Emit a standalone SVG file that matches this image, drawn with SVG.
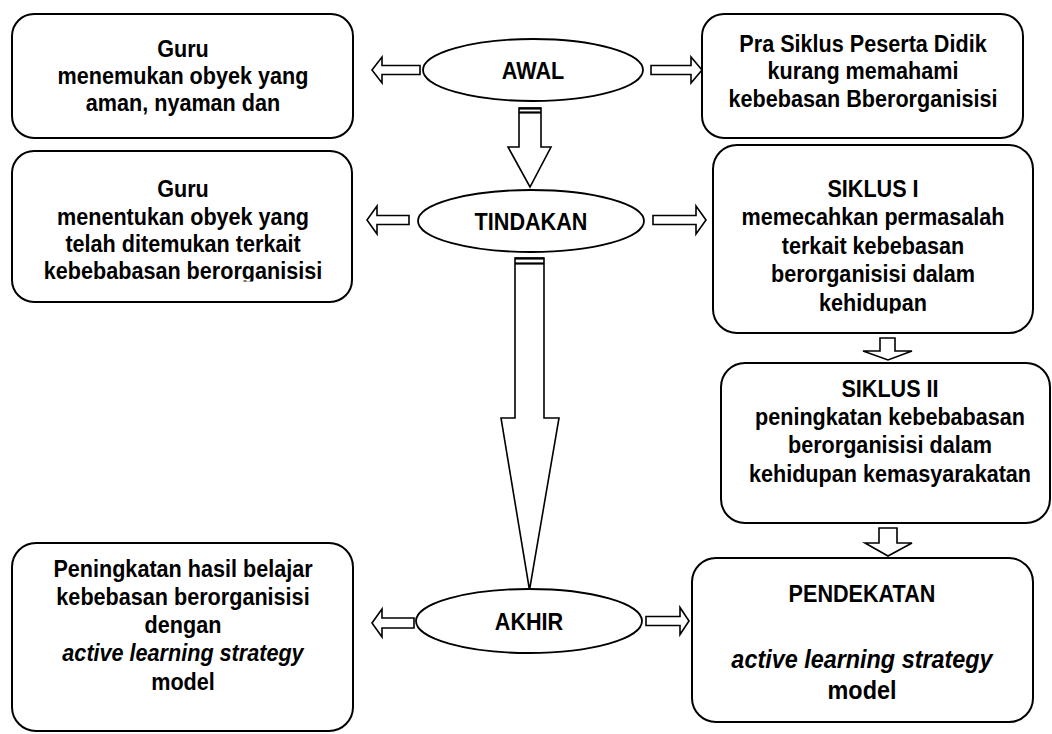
<svg xmlns="http://www.w3.org/2000/svg" width="1052" height="734" viewBox="0 0 1052 734">
<style>
.box{fill:#fff;stroke:#000;stroke-width:2}
.ell{fill:#fff;stroke:#000;stroke-width:1.8}
.arr{fill:#fff;stroke:#000;stroke-width:1.6;stroke-linejoin:miter}
.bar{stroke:#000;stroke-width:2.2}
text{font-family:"Liberation Sans",Arial,sans-serif;font-weight:bold;font-size:24px;text-anchor:middle;fill:#000}
.it{font-style:italic}
.big{font-size:26px}
</style>
<defs>
<clipPath id="c3"><rect x="12" y="151" width="340" height="130.5"/></clipPath>
<clipPath id="c4"><rect x="713" y="145" width="320" height="168.5"/></clipPath>
</defs>
<rect width="1052" height="734" fill="#fff"/>
<g id="connectors">
<polygon class="arr" points="372,70 382,57 382,65.5 420,65.5 420,74.5 382,74.5 382,83"/>
<polygon class="arr" points="702,70 691,57 691,65.5 651,65.5 651,74.5 691,74.5 691,83"/>
<polygon class="arr" points="367,220 377,206 377,215.5 409,215.5 409,224.5 377,224.5 377,234"/>
<polygon class="arr" points="706,220 696,206 696,215.5 653,215.5 653,224.5 696,224.5 696,234"/>
<polygon class="arr" points="372,623 382,609 382,618 414,618 414,628 382,628 382,637"/>
<polygon class="arr" points="689,621 680,607.5 680,616.5 646,616.5 646,625.5 680,625.5 680,634.5"/>
<polygon class="arr" points="519,108 541,108 541,147 551,147 530,187 508,147 519,147"/>
<line class="bar" x1="519" y1="108.5" x2="541" y2="108.5"/>
<line class="bar" x1="519" y1="112.5" x2="541" y2="112.5"/>
<polygon class="arr" points="515,258 544,258 544,418 559,418 529.5,590 501,418 515,418"/>
<line class="bar" x1="515" y1="258.5" x2="544" y2="258.5"/>
<line class="bar" x1="515" y1="263.5" x2="544" y2="263.5"/>
<polygon class="arr" points="880,338 895,338 895,351 912,351 888,360 863,351 880,351"/>
<polygon class="arr" points="879,528 897,528 897,543 912,543 888,556 865,543 879,543"/>
</g>
<g id="awal">
<ellipse class="ell" cx="533" cy="70" rx="110" ry="31"/>
<text transform="translate(533,79) scale(0.9,1)">AWAL</text>
</g>
<g id="tindakan">
<ellipse class="ell" cx="531" cy="221" rx="113" ry="31"/>
<text transform="translate(531,230) scale(0.9,1)">TINDAKAN</text>
</g>
<g id="akhir">
<ellipse class="ell" cx="529" cy="621" rx="113" ry="32"/>
<text transform="translate(529,630) scale(0.9,1)">AKHIR</text>
</g>
<g id="guru1">
<rect class="box" x="12" y="14" width="341" height="124" rx="22"/>
<text transform="translate(183,57) scale(0.9,1)">Guru</text>
<text transform="translate(183,84) scale(0.9,1)">menemukan obyek yang</text>
<text transform="translate(183,111) scale(0.9,1)">aman, nyaman dan</text>
</g>
<g id="prasiklus">
<rect class="box" x="702" y="14" width="321" height="124" rx="22"/>
<text transform="translate(863,52) scale(0.9,1)">Pra Siklus Peserta Didik</text>
<text transform="translate(863,79) scale(0.9,1)">kurang memahami</text>
<text transform="translate(863,107) scale(0.9,1)">kebebasan Bberorganisisi</text>
</g>
<g id="guru2">
<rect class="box" x="12" y="151" width="340" height="151" rx="22"/>
<g clip-path="url(#c3)">
<text transform="translate(183,197) scale(0.9,1)">Guru</text>
<text transform="translate(183,225) scale(0.9,1)">menentukan obyek yang</text>
<text transform="translate(183,252) scale(0.9,1)">telah ditemukan terkait</text>
<text transform="translate(183,279) scale(0.9,1)">kebebabasan berorganisisi</text>
</g>
</g>
<g id="siklus1">
<rect class="box" x="713" y="145" width="320" height="188" rx="24"/>
<g clip-path="url(#c4)">
<text transform="translate(873,197) scale(0.9,1)">SIKLUS I</text>
<text transform="translate(873,225) scale(0.9,1)">memecahkan permasalah</text>
<text transform="translate(873,254) scale(0.9,1)">terkait kebebasan</text>
<text transform="translate(873,282) scale(0.9,1)">berorganisisi dalam</text>
<text transform="translate(873,311) scale(0.9,1)">kehidupan</text>
</g>
</g>
<g id="siklus2">
<rect class="box" x="721" y="363" width="329" height="160" rx="24"/>
<text transform="translate(890,397) scale(0.9,1)">SIKLUS II</text>
<text transform="translate(890,425) scale(0.9,1)">peningkatan kebebabasan</text>
<text transform="translate(890,453) scale(0.9,1)">berorganisisi dalam</text>
<text transform="translate(890,482) scale(0.9,1)">kehidupan kemasyarakatan</text>
</g>
<g id="pendekatan">
<rect class="box" x="692" y="558" width="341" height="164" rx="24"/>
<text transform="translate(862,602) scale(0.9,1)">PENDEKATAN</text>
<text transform="translate(862,668) scale(0.9,1)" class="it big">active learning strategy</text>
<text transform="translate(862,699) scale(0.9,1)" class="big">model</text>
</g>
<g id="hasil">
<rect class="box" x="12" y="543" width="341" height="188" rx="24"/>
<text transform="translate(183,577) scale(0.9,1)">Peningkatan hasil belajar</text>
<text transform="translate(183,605) scale(0.9,1)">kebebasan berorganisisi</text>
<text transform="translate(183,633) scale(0.9,1)">dengan</text>
<text transform="translate(183,661) scale(0.9,1)" class="it">active learning strategy</text>
<text transform="translate(183,690) scale(0.9,1)">model</text>
</g>
</svg>
